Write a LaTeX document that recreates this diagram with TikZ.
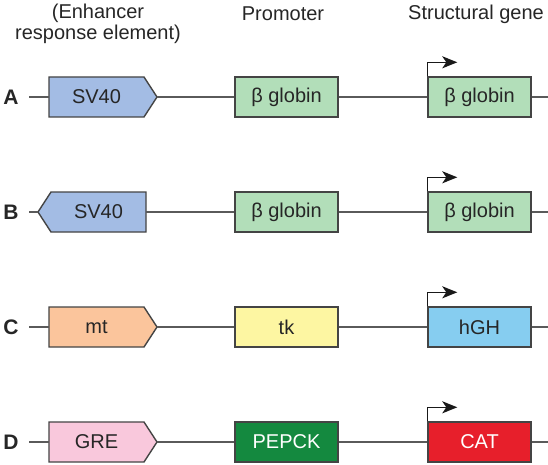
\documentclass[tikz,border=0pt]{standalone}
\usepackage{fontspec}
\setmainfont{Liberation Sans}
\usetikzlibrary{arrows.meta,calc}
\definecolor{sv}{HTML}{A3BCE4}
\definecolor{glob}{HTML}{B2DEB9}
\definecolor{mtc}{HTML}{FBC59C}
\definecolor{tkc}{HTML}{FDF6A2}
\definecolor{hgh}{HTML}{86CDF0}
\definecolor{gre}{HTML}{F9C8DC}
\definecolor{pep}{HTML}{14893F}
\definecolor{cat}{HTML}{E71F2B}
\definecolor{edge}{HTML}{444444}
\definecolor{wire}{HTML}{5A5A5A}
\begin{document}
\begin{tikzpicture}[x=1pt,y=-1pt,
  txt/.style={font=\fontsize{20}{21}\selectfont, text=black!85},
  genebox/.style={txt, draw=edge, line width=1.4pt, minimum width=103pt, minimum height=40pt, inner sep=0pt},
  enhtext/.style={txt, minimum width=95pt, minimum height=40pt, inner sep=0pt},
  enhshape/.style={draw=edge, line width=1.4pt, line join=miter},
  wireline/.style={draw=wire, line width=1.4pt},
  startarrow/.style={draw=black!90, line width=1.5pt, -{Stealth[length=15pt,width=12pt,inset=4pt]}},
  rowlabel/.style={font=\fontsize{21}{22}\selectfont\bfseries, text=black!85},
  heading/.style={txt, align=center}
]
\useasboundingbox (0,0) rectangle (548,465);

% headings
\node[heading] (h1) at (98,24) {(Enhancer\\response element)};
\node[heading] (h2) at (283,14) {Promoter};
\node[heading] (h3) at (476,14) {Structural gene};

% ---------- Row A ----------
\node[rowlabel] (la) at (11,97) {A};
\coordinate (as) at (29,97);
\coordinate (ae) at (548,97);
\fill[sv] (49,77) -- (144,77) -- (157,97) -- (144,117) -- (49,117) -- cycle;
\draw[enhshape] (49,77) -- (144,77) -- (157,97) -- (144,117) -- (49,117) -- cycle;
\node[enhtext] (a1) at (96.5,97) {SV40};
\coordinate (a1tip) at (157,97);
\node[genebox, fill=glob] (a2) at (286.5,97) {β globin};
\node[genebox, fill=glob] (a3) at (479.5,97) {β globin};
\draw[wireline] (as) -- (a1.west);
\draw[wireline] (a1tip) -- (a2.west);
\draw[wireline] (a2.east) -- (a3.west);
\draw[wireline] (a3.east) -- (ae);
\draw[startarrow] (a3.north west) -- ++(0,-14) -- ++(30,0);

% ---------- Row B ----------
\node[rowlabel] (lb) at (11,212) {B};
\coordinate (bs) at (29,212);
\coordinate (be) at (548,212);
\fill[sv] (38,212) -- (51,192) -- (146,192) -- (146,232) -- (51,232) -- cycle;
\draw[enhshape] (38,212) -- (51,192) -- (146,192) -- (146,232) -- (51,232) -- cycle;
\node[enhtext] (b1) at (98.5,212) {SV40};
\coordinate (b1tip) at (38,212);
\node[genebox, fill=glob] (b2) at (286.5,212) {β globin};
\node[genebox, fill=glob] (b3) at (479.5,212) {β globin};
\draw[wireline] (bs) -- (b1tip);
\draw[wireline] (b1.east) -- (b2.west);
\draw[wireline] (b2.east) -- (b3.west);
\draw[wireline] (b3.east) -- (be);
\draw[startarrow] (b3.north west) -- ++(0,-14) -- ++(30,0);

% ---------- Row C ----------
\node[rowlabel] (lc) at (11,327) {C};
\coordinate (cs) at (29,327);
\coordinate (ce) at (548,327);
\fill[mtc] (49,307) -- (144,307) -- (157,327) -- (144,347) -- (49,347) -- cycle;
\draw[enhshape] (49,307) -- (144,307) -- (157,327) -- (144,347) -- (49,347) -- cycle;
\node[enhtext] (c1) at (96.5,327) {mt};
\coordinate (c1tip) at (157,327);
\node[genebox, fill=tkc] (c2) at (286.5,327) {tk};
\node[genebox, fill=hgh] (c3) at (479.5,327) {hGH};
\draw[wireline] (cs) -- (c1.west);
\draw[wireline] (c1tip) -- (c2.west);
\draw[wireline] (c2.east) -- (c3.west);
\draw[wireline] (c3.east) -- (ce);
\draw[startarrow] (c3.north west) -- ++(0,-14) -- ++(30,0);

% ---------- Row D ----------
\node[rowlabel] (ld) at (11,442) {D};
\coordinate (ds) at (29,442);
\coordinate (de) at (548,442);
\fill[gre] (49,422) -- (144,422) -- (157,442) -- (144,462) -- (49,462) -- cycle;
\draw[enhshape] (49,422) -- (144,422) -- (157,442) -- (144,462) -- (49,462) -- cycle;
\node[enhtext] (d1) at (96.5,442) {GRE};
\coordinate (d1tip) at (157,442);
\node[genebox, fill=pep, text=white] (d2) at (286.5,442) {PEPCK};
\node[genebox, fill=cat, text=white] (d3) at (479.5,442) {CAT};
\draw[wireline] (ds) -- (d1.west);
\draw[wireline] (d1tip) -- (d2.west);
\draw[wireline] (d2.east) -- (d3.west);
\draw[wireline] (d3.east) -- (de);
\draw[startarrow] (d3.north west) -- ++(0,-14) -- ++(30,0);
\end{tikzpicture}
\end{document}
